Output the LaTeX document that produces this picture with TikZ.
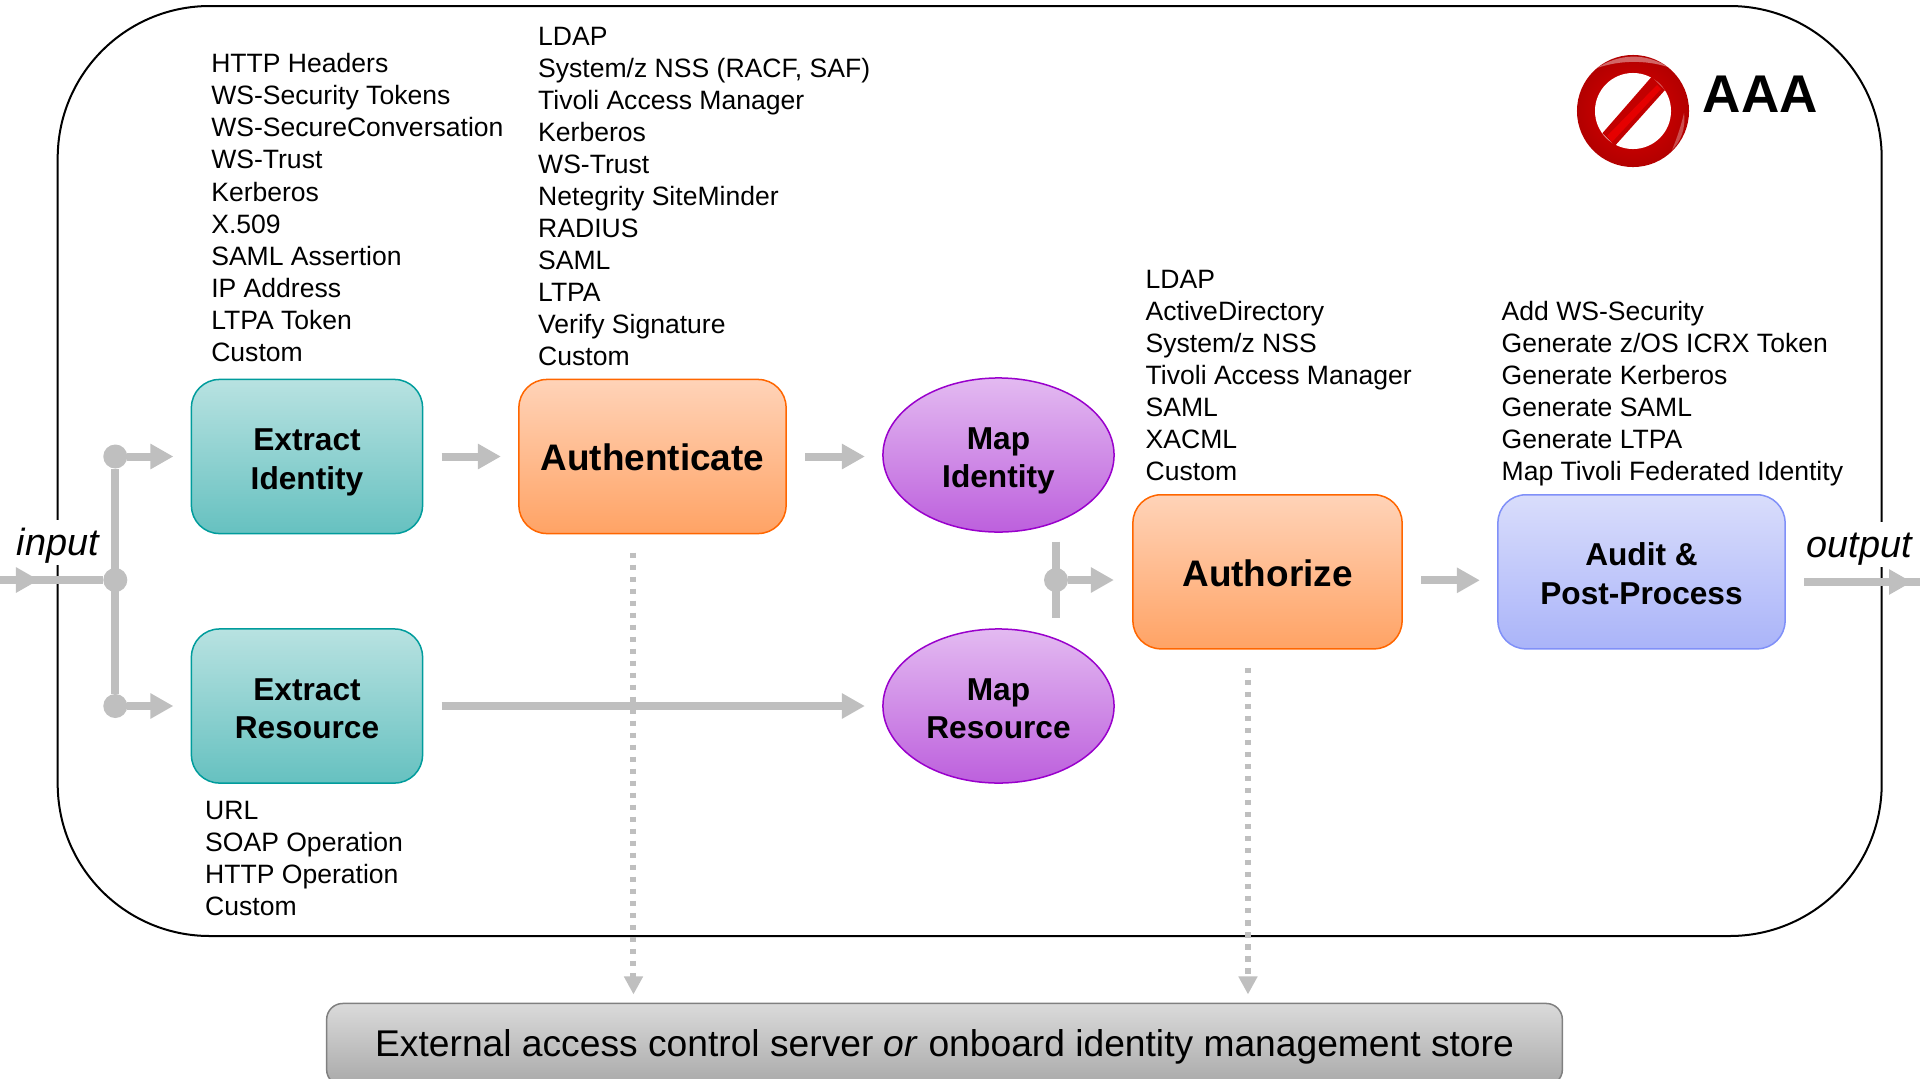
\documentclass[tikz,border=0pt]{standalone}
\usepackage{xcolor}
\usepackage{fontspec}
\setmainfont{Liberation Sans}
\usetikzlibrary{arrows.meta, shapes.geometric}

\definecolor{flow grey}{HTML}{BFBFBF}
\definecolor{teal line}{HTML}{009C9C}
\definecolor{teal top}{HTML}{B8E2E1}
\definecolor{teal bottom}{HTML}{66C1C0}
\definecolor{orange line}{HTML}{FF6600}
\definecolor{orange top}{HTML}{FFD3B8}
\definecolor{orange bottom}{HTML}{FFA365}
\definecolor{purple line}{HTML}{9900CC}
\definecolor{purple top}{HTML}{E3BAF1}
\definecolor{purple bottom}{HTML}{BD60DD}
\definecolor{blue line}{HTML}{8090F8}
\definecolor{blue top}{HTML}{D9DDFB}
\definecolor{blue bottom}{HTML}{AAB4F9}
\definecolor{store top}{HTML}{DADADA}
\definecolor{store bottom}{HTML}{A9A9A9}

\tikzset{
	action/.style = {rounded corners = 0.28cm, minimum width = 2.31cm, minimum height = 1.54cm, inner sep = 0pt, outer sep = 0pt, line width = 0.015cm, align = center, font = \fontsize{9}{10.9}\selectfont\bfseries},
	two lines/.style = {text height = 18.48pt, text depth = 0pt},
	big action/.style = {action, minimum width = 2.69cm, text height = 8.2pt, text depth = 0pt, font = \fontsize{10.5}{12}\selectfont\bfseries},
	teal action/.style = {action, two lines, draw = teal line, top color = teal top, bottom color = teal bottom},
	orange action/.style = {big action, draw = orange line, top color = orange top, bottom color = orange bottom},
	purple action/.style = {action, two lines, ellipse, draw = purple line, top color = purple top, bottom color = purple bottom},
	option list/.style = {anchor = west, align = left, inner sep = 0pt, font = \fontsize{7.55}{9.1}\selectfont},
	port label/.style = {fill = white, inner xsep = 0pt, inner ysep = 0pt, minimum height = 0.45cm, text height = 9.55pt, text depth = 2.26pt, font = \fontsize{10.76}{12}\selectfont\itshape},
	junction/.style = {circle, fill = flow grey, minimum size = 0.24cm, inner sep = 0pt, outer sep = 0pt},
	flow line/.style = {draw = flow grey, line width = 0.08cm},
	flow/.style = {flow line, -{Triangle[length = 0.23cm, width = 0.24cm]}},
	spaced/.style = {shorten <= 0.19cm, shorten >= 0.18cm},
	lookup/.style = {draw = flow grey, line width = 0.06cm, dash pattern = on 0.055cm off 0.065cm, -{Triangle[length = 0.18cm, width = 0.18cm]}, shorten <= 0.19cm, shorten >= 0.09cm}
}

\begin{document}
\begin{tikzpicture}[x = 0.01cm, y = -0.01cm]
	\def\rowin{580};
	\def\rowout{582};
	\def\shift{0.085cm};
	
	\useasboundingbox (0,0) rectangle (1920,1078);
	
	\draw [line width = 0.02cm, rounded corners = 1.52cm] (57.7,6) rectangle (1881.7,936);
	
	\node (extract identity) at (307,456.5) [teal action] {Extract\\Identity};
	\node (extract resource) at (307,706) [teal action] {Extract\\Resource};
	\node (authenticate) at (652.5,456.5) [orange action, minimum width = 2.67cm] {Authenticate};
	\node (map identity) at (998.5,455) [purple action] {Map\\Identity};
	\node (map resource) at (998.5,706) [purple action] {Map\\Resource};
	\node (authorize) at (1267.5,571.8) [orange action] {Authorize};
	\node (audit) at (1641.5,571.8) [action, two lines, minimum width = 2.87cm, draw = blue line, top color = blue top, bottom color = blue bottom] {Audit \&\\Post-Process};
	\node (store) at (944.5,1044.5) [rounded corners = 0.16cm, minimum width = 12.35cm, minimum height = 0.82cm, inner sep = 0pt, outer sep = 0pt, line width = 0.015cm, draw = gray, top color = store top, bottom color = store bottom, text height = 9.1pt, text depth = 2.22pt, font = \fontsize{10.58}{12}\selectfont] {External access control server \textit{or} onboard identity management store};
	
	\node (identity tokens) at (210.6,207.5) [option list] {HTTP Headers\\WS-Security Tokens\\WS-SecureConversation\\WS-Trust\\Kerberos\\X.509\\SAML Assertion\\IP Address\\LTPA Token\\Custom};
	\node (auth methods) at (537.5,196.5) [option list] {LDAP\\System/z NSS (RACF, SAF)\\Tivoli Access Manager\\Kerberos\\WS-Trust\\Netegrity SiteMinder\\RADIUS\\SAML\\LTPA\\Verify Signature\\Custom};
	\node (authz methods) at (1145,375) [option list] {LDAP\\ActiveDirectory\\System/z NSS\\Tivoli Access Manager\\SAML\\XACML\\Custom};
	\node (post steps) at (1501,393.5) [option list] {Add WS-Security\\Generate z/OS ICRX Token\\Generate Kerberos\\Generate SAML\\Generate LTPA\\Map Tivoli Federated Identity};
	\node (resource types) at (204.5,858) [option list] {URL\\SOAP Operation\\HTTP Operation\\Custom};
	
	\node (input) at (58,542.5) [port label] {input};
	\node (output) at (1859.5,544.5) [port label] {output};
	
	\coordinate (feed start) at (0,\rowin);
	\coordinate (feed tip) at (39,\rowin);
	\coordinate (out start) at (1805,\rowout);
	\coordinate (out tip) at (1912,\rowout);
	\coordinate (out end) at (1920,\rowout);
	\coordinate (merge top) at (1056,541.7);
	\coordinate (merge bottom) at (1056,618);
	
	\node (split top) at (115.3,456.5) [junction] {};
	\node (split middle) at (115.3,\rowin) [junction] {};
	\node (split bottom) at (115.3,706) [junction] {};
	\node (merge) at (1056,\rowin) [junction] {};
	
	\draw [flow line] (split top) -- (split bottom);
	\draw [flow line] (feed start) -- (split middle);
	\draw [flow] (feed start) -- (feed tip);
	\draw [flow, shorten >= 0.18cm] (split top) -- (extract identity);
	\draw [flow, shorten >= 0.18cm] (split bottom) -- (extract resource);
	\draw [flow, spaced] (extract identity) -- (authenticate);
	\draw [flow, spaced] (authenticate) -- (authenticate -| map identity.west);
	\draw [flow, spaced] (extract resource) -- (map resource);
	\draw [flow line] (merge top) -- (merge bottom);
	\draw [flow, shorten >= 0.19cm] (merge) -- (merge -| authorize.west);
	\draw [flow, spaced] ([yshift = -\shift]authorize.east) -- ([yshift = -\shift]audit.west);
	\draw [flow line, shorten <= 0.19cm] (audit.east |- out start) -- (out end);
	\draw [flow] (out start) -- (out tip);
	
	\draw [lookup] ([xshift = -0.19cm]authenticate.south) -- ([xshift = -0.19cm]authenticate.south |- store.north);
	\draw [lookup] ([xshift = -0.195cm]authorize.south) -- ([xshift = -0.195cm]authorize.south |- store.north);
	
	\shade [inner color = red!88!black, outer color = red!70!black] (1633,111) circle [radius = 0.56cm];
	\fill [white] (1633,111) circle [radius = 0.38cm];
	\fill [red!76!black] (1651.7,76.7) -- (1665,90) -- (1615,145.7) -- (1602.3,133.3) -- cycle;
	\fill [red!90!black] (1657,85) -- (1661,89) -- (1612,142) -- (1607,136) -- cycle;
	\fill [white, opacity = 0.4] (1597,68) .. controls (1620,53) and (1646,53) .. (1668,67) .. controls (1646,60) and (1620,60) .. (1597,68) -- cycle;
	\fill [white, opacity = 0.3] (1684,113) .. controls (1686,130) and (1680,142) .. (1672,150) .. controls (1677,138) and (1681,126) .. (1684,113) -- cycle;
	\node (aaa) at (1702,112) [anchor = base west, inner sep = 0pt, font = \fontsize{15.1}{18}\selectfont\bfseries] {AAA};
\end{tikzpicture}
\end{document}
